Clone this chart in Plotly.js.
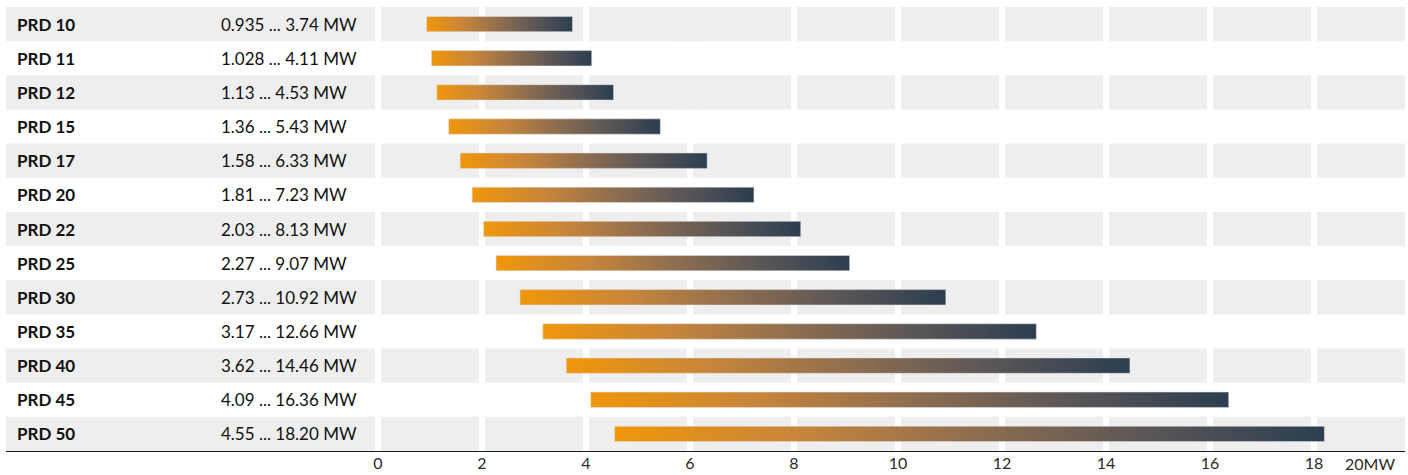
<!DOCTYPE html>
<html>
<head>
<meta charset="utf-8">
<script src="https://cdn.plot.ly/plotly-3.0.1.min.js"></script>
<style>
  html, body { margin: 0; padding: 0; background: #ffffff; }
  #chart { width: 1408px; height: 475px; }
</style>
</head>
<body>
<div id="chart"></div>
<script>
// ---- data ----
const models = ['PRD 10', 'PRD 11', 'PRD 12', 'PRD 15', 'PRD 17', 'PRD 20', 'PRD 22', 'PRD 25', 'PRD 30', 'PRD 35', 'PRD 40', 'PRD 45', 'PRD 50'];
const minMW = [0.935, 1.028, 1.13, 1.36, 1.58, 1.81, 2.03, 2.27, 2.73, 3.17, 3.62, 4.09, 4.55];
const maxMW = [3.74, 4.11, 4.53, 5.43, 6.33, 7.23, 8.13, 9.07, 10.92, 12.66, 14.46, 16.36, 18.20];
const rangeLabels = ['0.935 ... 3.74 MW', '1.028 ... 4.11 MW', '1.13 ... 4.53 MW', '1.36 ... 5.43 MW',
  '1.58 ... 6.33 MW', '1.81 ... 7.23 MW', '2.03 ... 8.13 MW', '2.27 ... 9.07 MW', '2.73 ... 10.92 MW',
  '3.17 ... 12.66 MW', '3.62 ... 14.46 MW', '4.09 ... 16.36 MW', '4.55 ... 18.20 MW'];
const tickVals = [0, 2, 4, 6, 8, 10, 12, 14, 16, 18];
const tickText = ['0', '2', '4', '6', '8', '10', '12', '14', '16', '18'];
const axisEndLabel = '20MW';

// ---- styling ----
const FONT = 'Lato, "Open Sans", sans-serif';
const BAND = '#efeeee';
const gradScale = [[0, '#f0960a'], [0.25, '#c9863a'], [0.5, '#8f6e4f'], [0.75, '#5a5657'], [1, '#2c3e50']];
const HALF = 0.225;

const traces = models.map((m, i) => ({
  type: 'scatter',
  mode: 'lines',
  x: [minMW[i], maxMW[i], maxMW[i], minMW[i], minMW[i]],
  y: [i - HALF, i - HALF, i + HALF, i + HALF, i - HALF],
  fill: 'toself',
  fillgradient: { type: 'horizontal', colorscale: gradScale },
  line: { width: 0.6, color: 'rgba(225,225,225,0.9)' },
  hoverinfo: 'text',
  text: m + ': ' + rangeLabels[i],
  showlegend: false
}));

const shapes = [];
models.forEach((m, i) => {
  if (i % 2 === 0) {
    shapes.push({ type: 'rect', layer: 'below', xref: 'paper', yref: 'y',
      x0: 0, x1: 1, y0: i - 0.5, y1: i + 0.5, fillcolor: BAND, line: { width: 0 } });
  }
});
// rows where the reference has no separator at 6
[0, 2].forEach(i => {
  shapes.push({ type: 'rect', layer: 'between', xref: 'x', yref: 'y',
    x0: 5.7, x1: 6.3, y0: i - 0.5, y1: i + 0.5, fillcolor: BAND, line: { width: 0 } });
});

const annotations = [];
models.forEach((m, i) => {
  annotations.push({ xref: 'paper', yref: 'y', x: 0.0065, y: i, xanchor: 'left', yanchor: 'middle',
    text: '<b>' + m + '</b>', showarrow: false, font: { family: FONT, size: 17, color: '#111111' } });
  annotations.push({ xref: 'paper', yref: 'y', x: 0.1523, y: i, xanchor: 'left', yanchor: 'middle',
    text: rangeLabels[i], showarrow: false, font: { family: FONT, size: 17, color: '#111111' } });
});
annotations.push({ xref: 'paper', yref: 'paper', x: 0.975, y: 0, xanchor: 'center', yanchor: 'top',
  yshift: -1, text: axisEndLabel, showarrow: false, font: { family: FONT, size: 16, color: '#2a2a2a' } });

const layout = {
  width: 1408, height: 475,
  margin: { l: 6, r: 3, t: 7, b: 24 },
  paper_bgcolor: '#ffffff', plot_bgcolor: '#ffffff',
  font: { family: FONT, size: 16, color: '#2a2a2a' },
  xaxis: {
    range: [-7.1538, 19.75],
    tickvals: tickVals, ticktext: tickText,
    showgrid: true, gridcolor: '#ffffff', gridwidth: 6,
    zeroline: false, showline: true, linecolor: '#1a1a1a', linewidth: 1.3,
    ticks: '', ticklabelstandoff: -2,
    tickfont: { family: FONT, size: 16, color: '#2a2a2a' },
    fixedrange: true
  },
  yaxis: {
    range: [12.5, -0.5],
    showgrid: false, zeroline: false, showline: false, showticklabels: false, ticks: '',
    fixedrange: true
  },
  shapes: shapes,
  annotations: annotations,
  hovermode: 'closest'
};

Plotly.newPlot('chart', traces, layout, { displayModeBar: false });
</script>
</body>
</html>
